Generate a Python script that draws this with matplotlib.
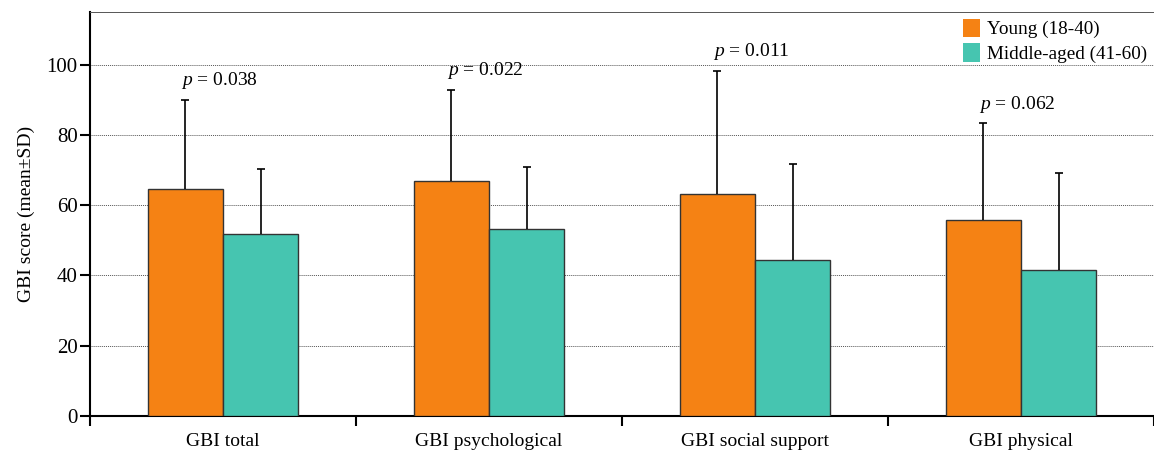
import numpy as np
import matplotlib
matplotlib.use("Agg")
import matplotlib.pyplot as plt
from matplotlib.patches import Patch

plt.rcParams['font.family'] = ['Liberation Serif', 'DejaVu Serif']
plt.rcParams['mathtext.fontset'] = 'custom'
plt.rcParams['mathtext.it'] = 'Liberation Serif:italic'
plt.rcParams['mathtext.rm'] = 'Liberation Serif'

# data
categories = ["GBI total", "GBI psychological", "GBI social support", "GBI physical"]
young_mean = [64.7, 67.0, 63.2, 55.8]
young_sd = [25.3, 25.9, 35.1, 27.5]
middle_mean = [51.9, 53.3, 44.5, 41.5]
middle_sd = [18.5, 17.6, 27.1, 27.8]
p_values = ["0.038", "0.022", "0.011", "0.062"]
groups = ["Young (18-40)", "Middle-aged (41-60)"]

orange = "#F58214"
teal = "#46C5B0"

fig = plt.figure(figsize=(11.54, 4.55), dpi=100)
ax = fig.add_axes([0.078, 0.0857, 0.922, 0.888])

x = np.arange(len(categories))
w = 0.283

# bars
ax.bar(x - w / 2, young_mean, w, color=orange, edgecolor="#333333", linewidth=1, zorder=3)
ax.bar(x + w / 2, middle_mean, w, color=teal, edgecolor="#333333", linewidth=1, zorder=3)

# upward-only error bars (hide the lower cap)
for xs, m, sd in [(x - w / 2, young_mean, young_sd), (x + w / 2, middle_mean, middle_sd)]:
    eb = ax.errorbar(xs, m, yerr=[np.zeros(len(xs)), sd], fmt="none", ecolor="black",
                     elinewidth=1.2, capsize=3, capthick=1.2, zorder=4)
    eb[1][0].set_visible(False)

# p-value labels above the young bars
for i in range(len(x)):
    top = young_mean[i] + young_sd[i]
    ax.text(x[i] - w / 2 - 0.015, top + 2.4, r"$p$ = " + p_values[i], fontsize=14,
            ha="left", va="bottom")

ax.set_xlim(-0.5, 3.5)
ax.set_ylim(0, 115)
ax.set_yticks([0, 20, 40, 60, 80, 100])
ax.yaxis.grid(True, linestyle=(0, (1, 1)), color="#555555", linewidth=0.7, zorder=0)
ax.set_axisbelow(True)

# group separators as major ticks, labels as minor ticks
ax.set_xticks([-0.5, 0.5, 1.5, 2.5, 3.5])
ax.set_xticklabels([])
ax.set_xticks(x, minor=True)
ax.set_xticklabels(categories, minor=True, fontsize=14)
ax.tick_params(axis="x", which="minor", length=0, pad=12)
ax.tick_params(axis="x", which="major", direction="out", length=7, width=1.5)
ax.tick_params(axis="y", direction="out", length=7, width=1.5, labelsize=15, pad=2)

ax.spines["right"].set_visible(False)
ax.spines["top"].set_linestyle((0, (1, 1)))
ax.spines["top"].set_color("#555555")
ax.spines["top"].set_linewidth(0.7)
ax.spines["left"].set_linewidth(1.5)
ax.spines["bottom"].set_linewidth(1.5)

ax.set_ylabel("GBI score (mean±SD)", fontsize=14, labelpad=8)

handles = [Patch(facecolor=orange, edgecolor="none"), Patch(facecolor=teal, edgecolor="none")]
ax.legend(handles, groups, loc="upper right", frameon=False, fontsize=13.8,
          handlelength=0.9, handleheight=1.1, handletextpad=0.35,
          borderaxespad=0.15, borderpad=0.2, labelspacing=0.25)

fig.savefig("out.png", dpi=100)
